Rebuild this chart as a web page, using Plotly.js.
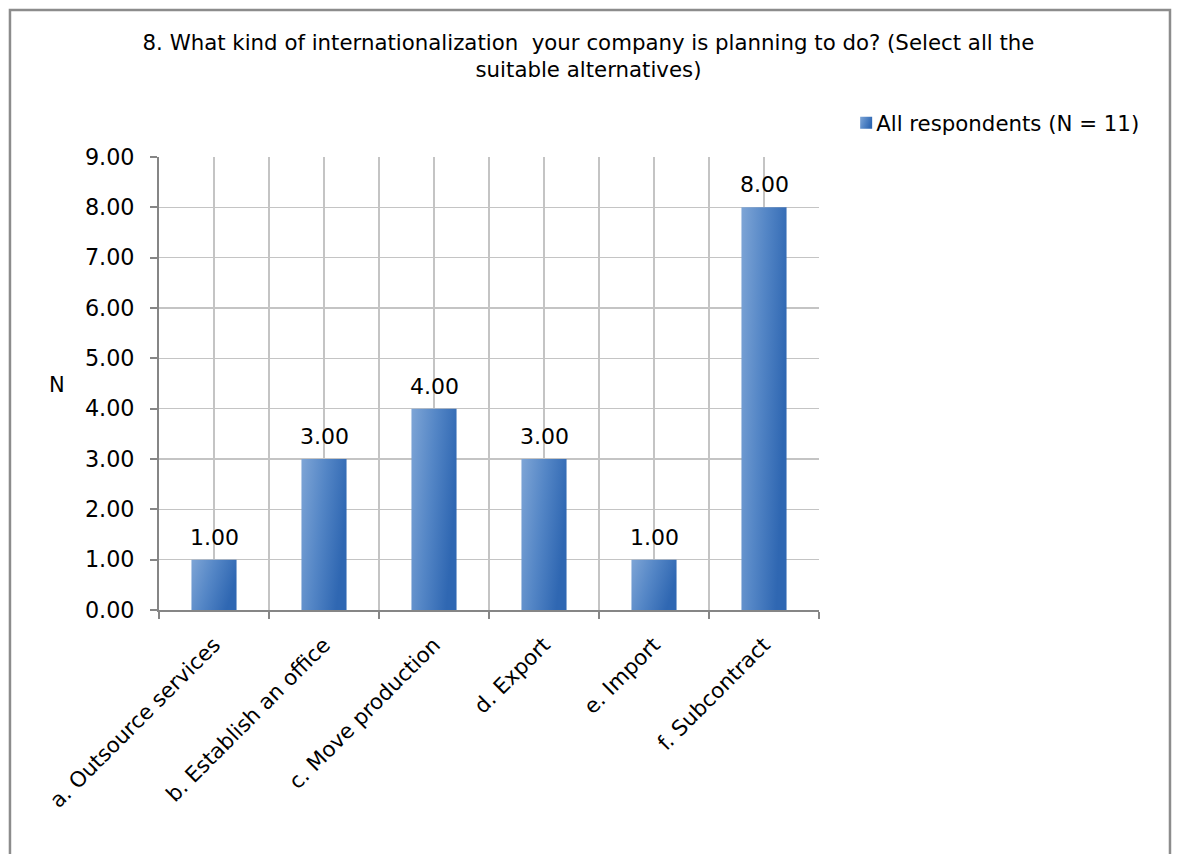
<!DOCTYPE html>
<html>
<head>
<meta charset="utf-8">
<script src="https://cdn.plot.ly/plotly-3.0.1.min.js"></script>
<style>
html,body{margin:0;padding:0;background:#fff;}
#chart{width:1177px;height:854px;}
</style>
</head>
<body>
<div id="chart"></div>
<script>
const categories = ["a. Outsource services", "b. Establish an office", "c. Move production", "d. Export", "e. Import", "f. Subcontract"];
const values = [1, 3, 4, 3, 1, 8];
const seriesName = "All respondents (N = 11)";
const yTickVals = [0, 1, 2, 3, 4, 5, 6, 7, 8, 9];
const titleText = "8. What kind of internationalization  your company is planning to do? (Select all the<br>suitable alternatives)";

const FONT = "DejaVu Sans, Verdana, sans-serif";
const positions = categories.map((c, i) => i);
const boundaries = categories.map((c, i) => i - 0.5).concat([categories.length - 0.5]);

const trace = {
  type: "bar",
  x: positions,
  y: values,
  name: seriesName,
  width: 0.41,
  marker: {color: "#5283c2", line: {width: 0}},
  hoverinfo: "skip",
  showlegend: true
};

const annotations = positions.map((x, i) => ({
  x: x, y: values[i], xref: "x", yref: "y",
  text: values[i].toFixed(2),
  showarrow: false, yanchor: "bottom", yshift: 8,
  font: {family: FONT, size: 22, color: "#000"}
}));
annotations.push({
  x: -0.1545, y: 0.497, xref: "paper", yref: "paper",
  text: "N", showarrow: false, xanchor: "center", yanchor: "middle",
  font: {family: FONT, size: 21, color: "#000"}
});

const layout = {
  width: 1177, height: 854,
  margin: {l: 159, r: 358, t: 157, b: 244, pad: 0},
  paper_bgcolor: "#fff", plot_bgcolor: "#fff",
  font: {family: FONT, size: 21, color: "#000"},
  title: {
    text: titleText,
    x: 0.5, xref: "container", xanchor: "center",
    y: 0.942, yref: "container", yanchor: "top",
    font: {family: FONT, size: 21.3, color: "#000"}
  },
  xaxis: {
    range: [-0.5, categories.length - 0.5],
    tickmode: "array", tickvals: positions, ticktext: categories,
    tickangle: -45,
    showgrid: true, gridcolor: "#c4c4c4", gridwidth: 1.5,
    ticks: "", showline: true, linecolor: "#868686", linewidth: 2,
    zeroline: false,
    ticklabelstandoff: 12,
    tickfont: {family: FONT, size: 21.3, color: "#000"},
    minor: {tickmode: "array", tickvals: boundaries, showgrid: true, gridcolor: "#c4c4c4", gridwidth: 1.5,
            ticks: "outside", ticklen: 7, tickwidth: 2, tickcolor: "#868686"},
    fixedrange: true
  },
  yaxis: {
    range: [0, 9],
    tickmode: "array", tickvals: yTickVals, ticktext: yTickVals.map(v => v.toFixed(2)),
    showgrid: true, gridcolor: "#c4c4c4", gridwidth: 1.5,
    ticks: "outside", ticklen: 7, tickwidth: 2, tickcolor: "#868686",
    showline: true, linecolor: "#868686", linewidth: 2,
    zeroline: false,
    ticklabelstandoff: 11,
    tickfont: {family: FONT, size: 22.3, color: "#000"},
    fixedrange: true
  },
  showlegend: true,
  legend: {
    x: 1.026, y: 1.075, xanchor: "left", yanchor: "middle",
    bgcolor: "rgba(0,0,0,0)", borderwidth: 0,
    font: {family: FONT, size: 21.3, color: "#000"},
    itemclick: false, itemdoubleclick: false
  },
  annotations: annotations,
  shapes: [{
    type: "rect", xref: "paper", yref: "paper",
    x0: -0.2258, x1: 1.5318, y0: -0.6, y1: 1.3245,
    line: {color: "#8c8c8c", width: 2.5}, fillcolor: "rgba(0,0,0,0)", layer: "below"
  }]
};

Plotly.newPlot("chart", [trace], layout, {displayModeBar: false, staticPlot: true}).then(gd => {
  const svg = gd.querySelector("svg.main-svg");
  const ns = "http://www.w3.org/2000/svg";
  let defs = svg.querySelector("defs");
  if (!defs) { defs = document.createElementNS(ns, "defs"); svg.insertBefore(defs, svg.firstChild); }
  const g = document.createElementNS(ns, "linearGradient");
  g.setAttribute("id", "barGrad");
  g.setAttribute("x1", "0"); g.setAttribute("y1", "0");
  g.setAttribute("x2", "1"); g.setAttribute("y2", "0.35");
  [["0%", "#7ea5d6"], ["50%", "#5486c6"], ["100%", "#2f67b2"]].forEach(([o, c]) => {
    const s = document.createElementNS(ns, "stop");
    s.setAttribute("offset", o); s.setAttribute("stop-color", c);
    g.appendChild(s);
  });
  defs.appendChild(g);
  gd.querySelectorAll(".bars path, .legendpoints path").forEach(p => {
    p.style.fill = "url(#barGrad)";
  });
  gd.querySelectorAll(".legendpoints").forEach(el => {
    el.setAttribute("transform", (el.getAttribute("transform") || "") + " translate(10,0)");
  });
});
</script>
</body>
</html>
